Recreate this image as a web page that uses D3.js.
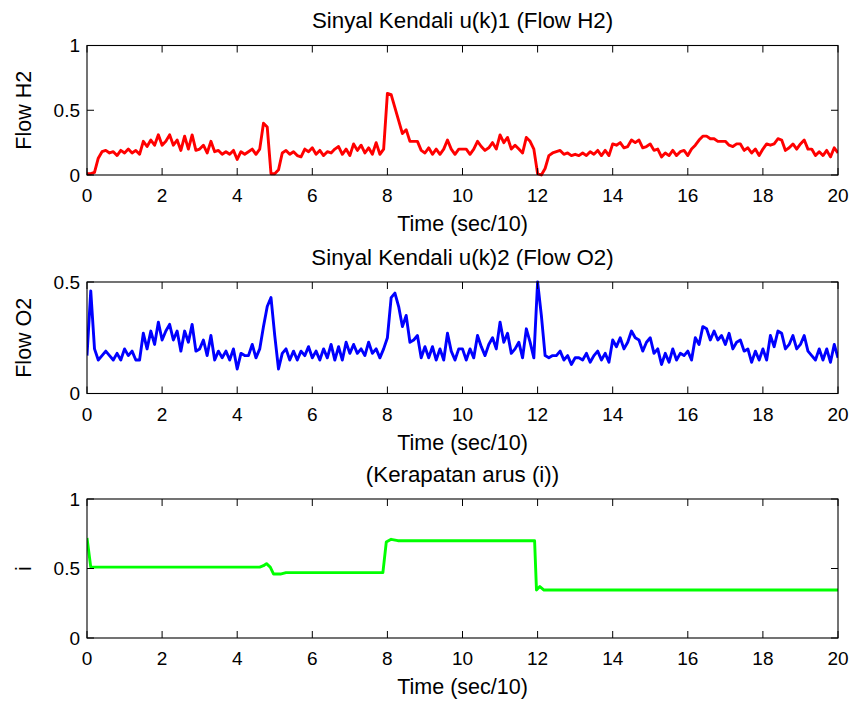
<!DOCTYPE html>
<html><head><meta charset="utf-8">
<script src="https://cdn.jsdelivr.net/npm/d3@7"></script>
<style>
html,body{margin:0;padding:0;background:#fff;}
svg{display:block;font-family:"Liberation Sans",Arial,sans-serif;}
</style></head>
<body><svg id="c" width="856" height="701"></svg>
<script>
// ---- Data ----
const timeStep = 0.1;          // sampling interval (sec/10)
const xTicks = [0,2,4,6,8,10,12,14,16,18,20];
const titles = ["Sinyal Kendali u(k)1 (Flow H2)", "Sinyal Kendali u(k)2 (Flow O2)", "(Kerapatan arus (i))"];
const yLabels = ["Flow H2", "Flow O2", "i"];
const xLabel = "Time (sec/10)";
const yTicks1 = [0, 0.5, 1];
const yTicks2 = [0, 0.5];
const yTicks3 = [0, 0.5, 1];

const flowH2 = [
 0.01,0.01,0.02,0.13,0.18,0.19,0.17,0.18,0.15,0.19,
 0.17,0.20,0.17,0.19,0.16,0.26,0.22,0.27,0.23,0.31,
 0.23,0.26,0.31,0.23,0.27,0.19,0.30,0.20,0.31,0.19,
 0.20,0.23,0.17,0.26,0.18,0.19,0.16,0.18,0.16,0.19,
 0.12,0.18,0.16,0.18,0.20,0.16,0.20,0.40,0.37,0.01,
 0.01,0.04,0.17,0.19,0.16,0.18,0.15,0.14,0.20,0.18,
 0.21,0.16,0.19,0.15,0.18,0.17,0.20,0.22,0.16,0.20,
 0.15,0.24,0.19,0.23,0.17,0.21,0.16,0.25,0.16,0.20,
 0.63,0.62,0.52,0.42,0.32,0.35,0.26,0.26,0.26,0.19,
 0.17,0.21,0.16,0.20,0.16,0.20,0.27,0.20,0.16,0.20,
 0.20,0.20,0.16,0.20,0.26,0.22,0.19,0.21,0.25,0.20,
 0.31,0.25,0.29,0.20,0.23,0.20,0.17,0.29,0.26,0.20,
 0.01,0.00,0.05,0.15,0.17,0.18,0.19,0.16,0.17,0.15,
 0.16,0.15,0.17,0.15,0.18,0.16,0.19,0.15,0.19,0.15,
 0.24,0.23,0.25,0.21,0.22,0.27,0.25,0.27,0.21,0.22,
 0.24,0.19,0.20,0.14,0.17,0.15,0.19,0.15,0.18,0.19,
 0.15,0.20,0.23,0.27,0.30,0.30,0.28,0.28,0.26,0.26,
 0.26,0.23,0.22,0.24,0.24,0.19,0.21,0.17,0.20,0.15,
 0.20,0.24,0.23,0.24,0.28,0.27,0.19,0.21,0.24,0.20,
 0.24,0.27,0.20,0.20,0.15,0.18,0.15,0.19,0.14,0.21,
 0.17];

const flowO2 = [
 0.17,0.46,0.20,0.15,0.17,0.19,0.17,0.15,0.18,0.15,
 0.20,0.17,0.19,0.15,0.15,0.27,0.20,0.28,0.22,0.32,
 0.24,0.28,0.31,0.24,0.28,0.19,0.28,0.23,0.31,0.19,
 0.20,0.24,0.17,0.26,0.15,0.19,0.16,0.19,0.15,0.20,
 0.11,0.18,0.17,0.17,0.22,0.16,0.20,0.30,0.39,0.43,
 0.26,0.11,0.18,0.20,0.15,0.19,0.15,0.19,0.17,0.21,
 0.16,0.19,0.15,0.20,0.16,0.22,0.15,0.21,0.15,0.23,
 0.18,0.22,0.18,0.20,0.17,0.23,0.18,0.20,0.16,0.20,
 0.25,0.43,0.45,0.39,0.30,0.35,0.23,0.24,0.26,0.16,
 0.21,0.16,0.21,0.15,0.20,0.15,0.27,0.19,0.15,0.20,
 0.20,0.15,0.20,0.16,0.26,0.21,0.17,0.22,0.25,0.20,
 0.32,0.23,0.27,0.18,0.20,0.23,0.16,0.29,0.23,0.16,
 0.50,0.35,0.17,0.16,0.17,0.17,0.19,0.15,0.17,0.13,
 0.16,0.16,0.15,0.18,0.14,0.17,0.19,0.15,0.18,0.14,
 0.24,0.21,0.25,0.20,0.23,0.28,0.25,0.24,0.19,0.23,
 0.25,0.18,0.20,0.13,0.18,0.14,0.20,0.15,0.18,0.17,
 0.19,0.15,0.25,0.22,0.30,0.29,0.24,0.28,0.24,0.26,
 0.22,0.27,0.20,0.23,0.24,0.19,0.20,0.14,0.19,0.15,
 0.20,0.15,0.26,0.21,0.28,0.27,0.20,0.22,0.26,0.20,
 0.22,0.26,0.19,0.17,0.15,0.20,0.15,0.20,0.14,0.22,
 0.16];

const currentTime  = [0, 0.1, 4.6, 4.7, 4.78, 4.88, 4.97, 5.15, 5.3, 7.88, 7.97, 8.1, 8.28, 11.92, 11.97, 12.06, 12.17, 20];
const currentValue = [0.72, 0.51, 0.51, 0.52, 0.535, 0.51, 0.46, 0.46, 0.47, 0.47, 0.69, 0.71, 0.70, 0.70, 0.345, 0.37, 0.345, 0.345];

// ---- Drawing ----
const svg = d3.select("#c");
const x = d3.scaleLinear().domain([0, 20]).range([87, 838]);

const series = [
  { pts: flowH2.map((v,i)=>[i*timeStep, v]), color:"#ff0000", ymax:1,   yt:yTicks1, top:45.5, bottom:175 },
  { pts: flowO2.map((v,i)=>[i*timeStep, v]), color:"#0000ff", ymax:0.5, yt:yTicks2, top:282,  bottom:393.5 },
  { pts: currentTime.map((t,i)=>[t, currentValue[i]]), color:"#00ff00", ymax:1, yt:yTicks3, top:499, bottom:638 }
];

const tickLen = 7;
series.forEach((s, k) => {
  const y = d3.scaleLinear().domain([0, s.ymax]).range([s.bottom, s.top]);
  const g = svg.append("g");
  const cid = "clip" + k;
  svg.append("clipPath").attr("id", cid).append("rect")
    .attr("x", x(0)).attr("y", s.top - 2).attr("width", x(20) - x(0)).attr("height", s.bottom - s.top + 4);

  // data line
  g.append("path")
    .datum(s.pts)
    .attr("clip-path", `url(#${cid})`)
    .attr("fill", "none").attr("stroke", s.color).attr("stroke-width", 2.9)
    .attr("stroke-linejoin", "round")
    .attr("d", d3.line().x(d => x(d[0])).y(d => y(d[1])));

  // box
  g.append("rect").attr("x", x(0)).attr("y", s.top)
    .attr("width", x(20) - x(0)).attr("height", s.bottom - s.top)
    .attr("fill", "none").attr("stroke", "#000").attr("stroke-width", 1.1);

  // x ticks (inward, top and bottom)
  xTicks.forEach(t => {
    g.append("line").attr("x1", x(t)).attr("x2", x(t)).attr("y1", s.bottom).attr("y2", s.bottom - tickLen).attr("stroke", "#000");
    g.append("line").attr("x1", x(t)).attr("x2", x(t)).attr("y1", s.top).attr("y2", s.top + tickLen).attr("stroke", "#000");
    g.append("text").attr("x", x(t)).attr("y", s.bottom + 27)
      .attr("text-anchor", "middle").attr("font-size", 19).text(t);
  });
  // y ticks
  s.yt.forEach(v => {
    g.append("line").attr("x1", x(0)).attr("x2", x(0) + tickLen).attr("y1", y(v)).attr("y2", y(v)).attr("stroke", "#000");
    g.append("line").attr("x1", x(20)).attr("x2", x(20) - tickLen).attr("y1", y(v)).attr("y2", y(v)).attr("stroke", "#000");
    g.append("text").attr("x", 80).attr("y", y(v)).attr("dy", "0.36em")
      .attr("text-anchor", "end").attr("font-size", 19).text(v);
  });

  // title
  g.append("text").attr("x", (x(0) + x(20)) / 2).attr("y", s.top - 17.5)
    .attr("text-anchor", "middle").attr("font-size", 22.3).text(titles[k]);
  // x label
  g.append("text").attr("x", (x(0) + x(20)) / 2).attr("y", s.bottom + 56)
    .attr("text-anchor", "middle").attr("font-size", 21.5).text(xLabel);
  // y label
  const cy = (s.top + s.bottom) / 2;
  g.append("text").attr("transform", `translate(31,${cy}) rotate(-90)`)
    .attr("text-anchor", "middle").attr("font-size", 21.5).text(yLabels[k]);
});
</script>
</body></html>
